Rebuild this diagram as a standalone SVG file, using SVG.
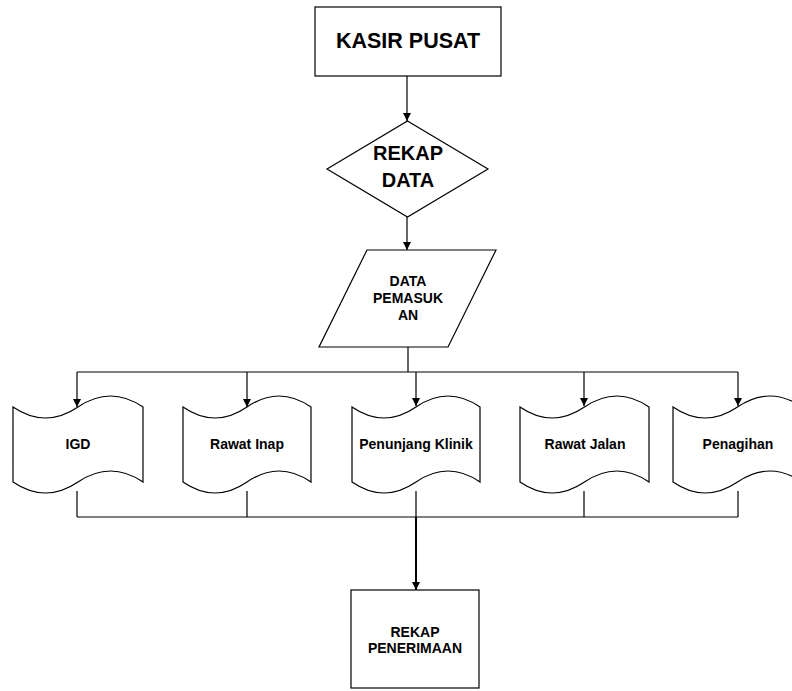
<svg xmlns="http://www.w3.org/2000/svg" width="792" height="691" viewBox="0 0 792 691">
  <style>
    .shape { fill: #ffffff; stroke: #000000; stroke-width: 1.2; }
    .line { fill: none; stroke: #000000; stroke-width: 1.2; }
    .thick { fill: none; stroke: #000000; stroke-width: 2; }
    text { font-family: "Liberation Sans", Arial, sans-serif; font-weight: bold; fill: #000000; text-anchor: middle; }
    .big { font-size: 21.5px; }
    .mid { font-size: 20px; }
    .small { font-size: 14px; }
  </style>
  <defs>
    <marker id="arrow" viewBox="0 0 10 10" refX="10" refY="5" markerWidth="8" markerHeight="9" markerUnits="userSpaceOnUse" orient="auto">
      <path d="M0,0 L10,5 L0,10 Z" fill="#000000"/>
    </marker>
  </defs>

  <rect width="792" height="691" fill="#ffffff"/>

  <!-- connectors -->
  <g id="connectors">
    <line class="line" x1="407" y1="76" x2="407" y2="121" marker-end="url(#arrow)"/>
    <line class="line" x1="407" y1="217" x2="407" y2="250" marker-end="url(#arrow)"/>
    <polyline class="line" points="408,347 408,372"/>
    <line class="line" x1="77" y1="372" x2="738" y2="372"/>
    <line class="line" x1="77" y1="372" x2="77" y2="407" marker-end="url(#arrow)"/>
    <line class="line" x1="247" y1="372" x2="247" y2="407" marker-end="url(#arrow)"/>
    <line class="line" x1="416" y1="372" x2="416" y2="406" marker-end="url(#arrow)"/>
    <line class="line" x1="584" y1="372" x2="584" y2="406" marker-end="url(#arrow)"/>
    <line class="line" x1="738" y1="372" x2="738" y2="406" marker-end="url(#arrow)"/>
    <!-- collecting lines below the departments -->
    <line class="line" x1="77" y1="491" x2="77" y2="517"/>
    <line class="line" x1="247" y1="491" x2="247" y2="517"/>
    <line class="line" x1="416" y1="491" x2="416" y2="517"/>
    <line class="line" x1="584" y1="491" x2="584" y2="517"/>
    <line class="line" x1="738" y1="491" x2="738" y2="517"/>
    <line class="line" x1="77" y1="517" x2="738" y2="517"/>
    <line class="thick" x1="416" y1="517" x2="416" y2="590" marker-end="url(#arrow)"/>
  </g>

  <!-- KASIR PUSAT -->
  <g id="kasir-pusat">
    <rect class="shape" x="315" y="7" width="186" height="69"/>
    <text class="big" x="408" y="48">KASIR PUSAT</text>
  </g>

  <!-- REKAP DATA -->
  <g id="rekap-data">
    <polygon class="shape" points="407.5,121 488,169 407.5,217 327,169"/>
    <text class="mid" x="408" y="160">REKAP</text>
    <text class="mid" x="408" y="187">DATA</text>
  </g>

  <!-- DATA PEMASUKAN -->
  <g id="data-pemasukan">
    <polygon class="shape" points="367,250 496,250 448,347 319,347"/>
    <text class="small" x="408" y="286">DATA</text>
    <text class="small" x="408" y="303">PEMASUK</text>
    <text class="small" x="408" y="320">AN</text>
  </g>

  <!-- departments (punched tape shapes) -->
  <g id="igd">
    <path class="shape" d="M13,407 Q45.5,429 78,407 Q110.5,385 143,407 L143,482 Q110.5,460 78,482 Q45.5,504 13,482 Z"/>
    <text class="small" x="78" y="449">IGD</text>
  </g>
  <g id="rawat-inap">
    <path class="shape" d="M183,407 Q215,429 247,407 Q279,385 311,407 L311,482 Q279,460 247,482 Q215,504 183,482 Z"/>
    <text class="small" x="247" y="449">Rawat Inap</text>
  </g>
  <g id="penunjang-klinik">
    <path class="shape" d="M352,407 Q384,429 416,407 Q448,385 480,407 L480,482 Q448,460 416,482 Q384,504 352,482 Z"/>
    <text class="small" x="416" y="449">Penunjang Klinik</text>
  </g>
  <g id="rawat-jalan">
    <path class="shape" d="M520,407 Q552,429 584.5,407 Q617,385 649,407 L649,482 Q617,460 584.5,482 Q552,504 520,482 Z"/>
    <text class="small" x="585" y="449">Rawat Jalan</text>
  </g>
  <g id="penagihan">
    <path class="shape" d="M673,407 Q705,429 737.5,407 Q770,385 802,407 L802,482 Q770,460 737.5,482 Q705,504 673,482 Z"/>
    <text class="small" x="738" y="449">Penagihan</text>
  </g>

  <!-- REKAP PENERIMAAN -->
  <g id="rekap-penerimaan">
    <rect class="shape" x="351" y="590" width="128" height="98"/>
    <text class="small" x="415" y="637">REKAP</text>
    <text class="small" x="415" y="653">PENERIMAAN</text>
  </g>
</svg>
